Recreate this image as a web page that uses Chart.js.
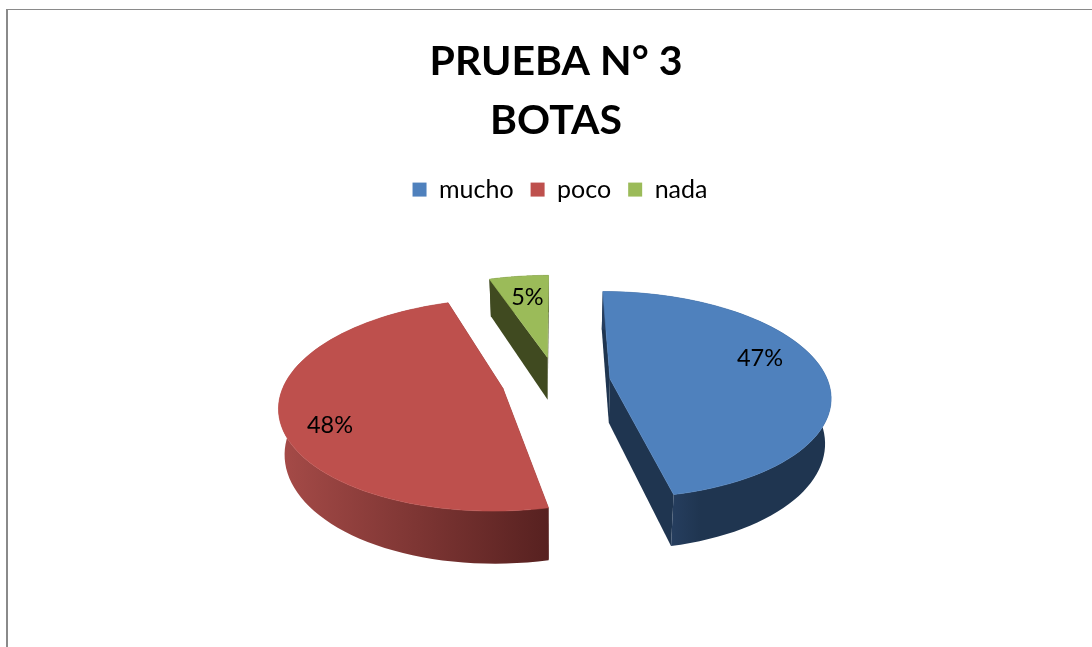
<!DOCTYPE html>
<html>
<head>
<meta charset="utf-8">
<style>
html,body{margin:0;padding:0;background:#fff;overflow:hidden}
#wrap{position:relative;width:1092px;height:647px;overflow:hidden}
#frame{position:absolute;left:6px;top:9px;width:1100px;height:660px;border-left:2px solid #8a8a8a;border-top:1px solid #8a8a8a;pointer-events:none}
canvas{position:absolute;left:0;top:0}
</style>
<script src="https://cdn.jsdelivr.net/npm/chart.js@4/dist/chart.umd.min.js"></script>
</head>
<body>
<div id="wrap"><canvas id="c" width="1092" height="647"></canvas><div id="frame"></div></div>
<script>
const categories = ['mucho', 'poco', 'nada'];
const values = [46.6, 48.2, 5.2];
const titleLines = ['PRUEBA N° 3', 'BOTAS'];
const topColors = ['#4F81BD', '#BE504D', '#9BBB59'];
const radialWallColors = ['#1F3550', '#5A2220', '#404A20'];
const rimStops = [
  ['#263E5F', '#1F3550'],
  ['#A64B48', '#572120'],
  ['#404A20', '#404A20']
];
const labelOffsets = [[150, -20], [-173, 37], [-20, -60]];

// 3D look: pie plane seen in perspective
const view = {cy: 381.5, rx: 218, ry: 101.5, persp: 0.154, explode: 0.25, depth: 44, shrink: 0.022};

function project(cx, X, Y, z) {
  const k = 1 / (1 - view.persp * Y);
  return {
    x: cx + view.rx * X * k * (1 - view.shrink * z),
    y: view.cy + view.ry * Y * k + view.depth * z * k
  };
}

function sliceGeometry(arc) {
  const mid = (arc.startAngle + arc.endAngle) / 2;
  const ox = Math.cos(mid) * view.explode, oy = Math.sin(mid) * view.explode;
  const pts = [];
  const n = 72;
  for (let i = 0; i <= n; i++) {
    const a = arc.startAngle + (arc.endAngle - arc.startAngle) * i / n;
    pts.push([ox + Math.cos(a), oy + Math.sin(a)]);
  }
  return {ox, oy, pts};
}

function poly(ctx, list) {
  ctx.beginPath();
  list.forEach((p, i) => i ? ctx.lineTo(p.x, p.y) : ctx.moveTo(p.x, p.y));
  ctx.closePath();
}

const pie3d = {
  id: 'pie3d',
  afterLayout(chart) {
    chart.legend.left += 4;
    chart.legend.right += 4;
  },
  beforeDatasetDraw(chart) {
    const ctx = chart.ctx;
    const arcs = chart.getDatasetMeta(0).data;
    ctx.save();
    [2, 1, 0].forEach(i => {
      const arc = arcs[i];
      const cx = arc.x;
      const g = sliceGeometry(arc);
      const top = g.pts.map(p => project(cx, p[0], p[1], 0));
      const bot = g.pts.map(p => project(cx, p[0], p[1], 1));
      const a0 = project(cx, g.ox, g.oy, 0), a1 = project(cx, g.ox, g.oy, 1);

      // radial walls
      ctx.fillStyle = radialWallColors[i];
      poly(ctx, [a0, top[0], bot[0], a1]); ctx.fill();
      poly(ctx, [a0, top[top.length - 1], bot[bot.length - 1], a1]); ctx.fill();

      // rim wall, shaded from one side to the other
      const xs = top.concat(bot).map(p => p.x);
      const minX = Math.min(...xs);
      const grad = i === 0
        ? ctx.createLinearGradient(bot[bot.length - 1].x, 0, bot[bot.length - 1].x + 30, 0)
        : ctx.createLinearGradient(minX, 0, Math.max(...xs), 0);
      grad.addColorStop(0, rimStops[i][0]);
      grad.addColorStop(1, rimStops[i][1]);
      ctx.fillStyle = grad;
      poly(ctx, top.concat(bot.slice().reverse())); ctx.fill();

      // top face
      ctx.fillStyle = topColors[i];
      poly(ctx, [a0].concat(top)); ctx.fill();
      ctx.strokeStyle = topColors[i]; ctx.lineWidth = 0.6; ctx.stroke();

      // percentage label
      ctx.fillStyle = '#000';
      ctx.font = '23.5px Lato';
      ctx.textAlign = 'center';
      ctx.textBaseline = 'middle';
      ctx.fillText(Math.round(values[i]) + '%', a0.x + labelOffsets[i][0], a0.y + labelOffsets[i][1]);
    });
    ctx.restore();
    return false;
  }
};

new Chart(document.getElementById('c'), {
  type: 'pie',
  data: {
    labels: categories,
    datasets: [{data: values, backgroundColor: topColors, borderWidth: 0}]
  },
  plugins: [pie3d],
  options: {
    responsive: false,
    animation: false,
    layout: {padding: {left: 20, top: 0}},
    plugins: {
      tooltip: {enabled: false},
      title: {
        display: true,
        text: titleLines,
        color: '#000',
        font: {family: 'Lato', size: 41, weight: 'bold', lineHeight: 1.44},
        padding: {top: 32, bottom: 10}
      },
      legend: {
        position: 'top',
        labels: {
          color: '#000',
          boxWidth: 14,
          boxHeight: 14,
          padding: 17,
          font: {family: 'Lato', size: 25}
        }
      }
    }
  }
});
</script>
</body>
</html>
